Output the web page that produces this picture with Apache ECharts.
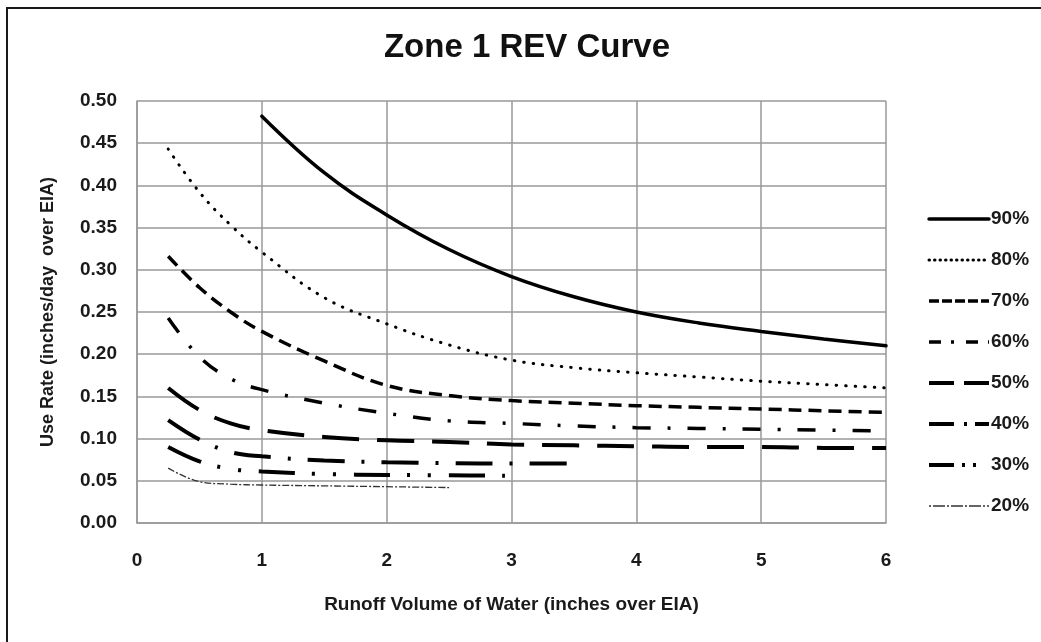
<!DOCTYPE html>
<html>
<head>
<meta charset="utf-8">
<script src="https://cdn.jsdelivr.net/npm/echarts@6/dist/echarts.min.js"></script>
<style>
html,body{margin:0;padding:0;background:#fff;}
#chart{width:1041px;height:642px;}
</style>
</head>
<body>
<div id="chart"></div>
<script>
// ---- data ----
const chartTitle = 'Zone 1 REV Curve';
const xAxisTitle = 'Runoff Volume of Water (inches over EIA)';
const yAxisTitle = 'Use Rate (inches/day  over EIA)';
const seriesNames = ['90%', '80%', '70%', '60%', '50%', '40%', '30%', '20%'];

const x90 = [1, 1.5, 2, 2.5, 3, 3.5, 4, 4.5, 5, 5.5, 6];
const y90 = [0.482, 0.415, 0.365, 0.324, 0.292, 0.268, 0.250, 0.237, 0.227, 0.218, 0.210];

const xFull = [0.25, 0.5, 0.75, 1, 1.5, 2, 2.5, 3, 3.5, 4, 4.5, 5, 5.5, 6];
const y80 = [0.443, 0.392, 0.353, 0.321, 0.267, 0.236, 0.211, 0.193, 0.184, 0.178, 0.173, 0.168, 0.164, 0.160];
const y70 = [0.316, 0.279, 0.250, 0.227, 0.192, 0.163, 0.151, 0.145, 0.142, 0.139, 0.137, 0.135, 0.133, 0.131];
const y60 = [0.243, 0.197, 0.171, 0.158, 0.142, 0.130, 0.121, 0.118, 0.115, 0.113, 0.112, 0.111, 0.110, 0.109];
const y50 = [0.160, 0.134, 0.118, 0.110, 0.102, 0.098, 0.096, 0.093, 0.092, 0.091, 0.090, 0.090, 0.089, 0.089];

const x40 = [0.25, 0.5, 0.75, 1, 1.5, 2, 2.5, 3, 3.5];
const y40 = [0.122, 0.099, 0.084, 0.079, 0.074, 0.0720, 0.0710, 0.0705, 0.0705];

const x30 = [0.25, 0.5, 0.75, 1, 1.5, 2, 2.5, 3];
const y30 = [0.090, 0.073, 0.064, 0.061, 0.058, 0.057, 0.0565, 0.056];

const x20 = [0.25, 0.5, 0.75, 1, 1.5, 2, 2.5];
const y20 = [0.065, 0.049, 0.046, 0.045, 0.044, 0.043, 0.042];

const xTicks = { min: 0, max: 6, interval: 1 };
const yTicks = { min: 0, max: 0.5, interval: 0.05 };

// ---- build ----
function pairs(xs, ys) { return xs.map((x, i) => [x, ys[i]]); }

const dataSets = [
  pairs(x90, y90), pairs(xFull, y80), pairs(xFull, y70), pairs(xFull, y60),
  pairs(xFull, y50), pairs(x40, y40), pairs(x30, y30), pairs(x20, y20)
];

const styles = [
  { width: 3.5, type: 'solid', cap: 'round' },
  { width: 3, type: [0.5, 9], cap: 'round' },
  { width: 3.5, type: [13, 7], cap: 'butt' },
  { width: 3.5, type: [18, 17, 3, 17], cap: 'butt' },
  { width: 4, type: [37, 18], cap: 'butt' },
  { width: 4, type: [37, 17, 3, 17], cap: 'butt' },
  { width: 4, type: [36, 17, 3, 18, 3, 18], cap: 'butt' },
  { width: 1.3, type: [7, 2, 2, 2], cap: 'butt' }
];
// shorter patterns for the 60px legend samples
const legendDash = [
  'solid', [0.5, 5], [10, 3], [12, 10, 3, 12], [25, 10], [25, 10, 3, 8], [25, 8, 3, 8, 3, 20], [2, 2, 12, 2]
];

const FONT = 'Liberation Sans';
const TXT = '#1a1a1a';
const chart = echarts.init(document.getElementById('chart'), null, { renderer: 'canvas' });

const option = {
  animation: false,
  backgroundColor: '#ffffff',
  graphic: [
    {
      type: 'rect',
      shape: { x: 7, y: 8, width: 1100, height: 700 },
      style: { fill: 'none', stroke: '#1a1a1a', lineWidth: 2 },
      silent: true
    },
    {
      type: 'text',
      x: 527, y: 48,
      style: {
        text: chartTitle,
        fill: '#111',
        font: 'bold 33px "' + FONT + '"',
        align: 'center',
        verticalAlign: 'middle',
        textAlign: 'center',
        textVerticalAlign: 'middle'
      }
    }
  ],
  grid: { left: 137, right: 155, top: 101, bottom: 119, containLabel: false },
  legend: {
    orient: 'vertical',
    left: 922,
    top: 204,
    padding: 5,
    itemWidth: 60,
    itemHeight: 14,
    itemGap: 21,
    data: seriesNames.map((n, i) => ({
      name: n,
      lineStyle: { width: styles[i].width, type: legendDash[i], cap: styles[i].cap }
    })),
    itemStyle: { opacity: 0 },
    lineStyle: { width: 'inherit' },
    textStyle: { fontFamily: FONT, fontWeight: 'bold', fontSize: 19, lineHeight: 20, color: TXT, padding: [0, 0, 0, -3] }
  },
  xAxis: {
    type: 'value',
    min: xTicks.min, max: xTicks.max, interval: xTicks.interval,
    name: xAxisTitle,
    nameLocation: 'middle',
    nameGap: 72,
    nameTextStyle: { fontFamily: FONT, fontWeight: 'bold', fontSize: 19, color: TXT },
    axisLine: { show: true, lineStyle: { color: '#999', width: 1.5 } },
    axisTick: { show: false },
    axisLabel: { margin: 28, fontFamily: FONT, fontWeight: 'bold', fontSize: 19, color: TXT },
    splitLine: { show: true, lineStyle: { color: '#999', width: 1.5 } }
  },
  yAxis: {
    type: 'value',
    min: yTicks.min, max: yTicks.max, interval: yTicks.interval,
    name: yAxisTitle,
    nameLocation: 'middle',
    nameGap: 80,
    nameRotate: 90,
    nameTextStyle: { fontFamily: FONT, fontWeight: 'bold', fontSize: 18, color: TXT },
    axisLine: { show: true, lineStyle: { color: '#999', width: 1.5 } },
    axisTick: { show: false },
    axisLabel: {
      margin: 20, fontFamily: FONT, fontWeight: 'bold', fontSize: 19, color: TXT,
      formatter: v => v.toFixed(2)
    },
    splitLine: { show: true, lineStyle: { color: '#999', width: 1.5 } }
  },
  series: seriesNames.map((name, i) => ({
    name: name,
    type: 'line',
    data: dataSets[i],
    smooth: 0.4,
    symbol: 'none',
    showSymbol: false,
    color: '#000',
    itemStyle: { opacity: 0 },
    lineStyle: { color: i === 7 ? '#333' : '#000', width: styles[i].width, type: styles[i].type, cap: styles[i].cap },
    emphasis: { disabled: true }
  }))
};

chart.setOption(option);
</script>
</body>
</html>
